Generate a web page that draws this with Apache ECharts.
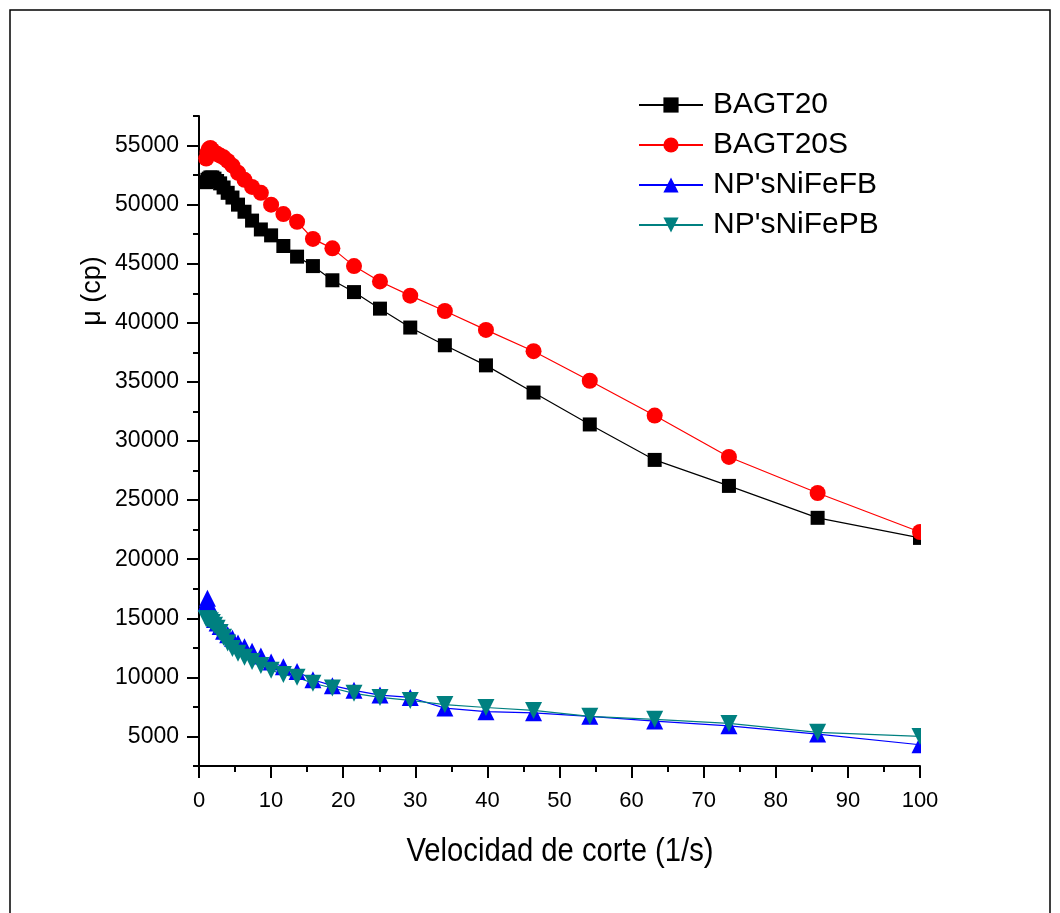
<!DOCTYPE html>
<html>
<head>
<meta charset="utf-8">
<script src="https://cdn.jsdelivr.net/npm/echarts@6/dist/echarts.min.js"></script>
<style>
html,body{margin:0;padding:0;background:#fff;}
#c{width:1060px;height:913px;}
</style>
</head>
<body>
<div id="c"></div>
<script>
// ---- data ----
const seriesNames = ['BAGT20', 'BAGT20S', "NP'sNiFeFB", "NP'sNiFePB"];
const shearRate = [1.00,1.17,1.36,1.58,1.85,2.15,2.51,2.93,3.41,3.98,4.64,5.41,6.31,7.36,8.58,10.0,11.7,13.6,15.8,18.5,21.5,25.1,29.3,34.1,39.8,46.4,54.2,63.2,73.5,85.8,100];
const bagt20 = [51900,52100,52200,52300,52300,52200,52000,51800,51450,51000,50600,50000,49400,48650,47900,47400,46500,45600,44800,43600,42600,41200,39600,38100,36400,34100,31400,28400,26200,23500,21800];
const bagt20s = [53900,54400,54700,54800,54600,54400,54300,54150,54000,53700,53300,52700,52100,51500,51000,50000,49200,48550,47100,46300,44800,43500,42300,41000,39400,37600,35100,32150,28650,25600,22300];
const npFB = [16300,16700,16200,15800,15300,14900,14600,14300,13900,13600,13300,12900,12600,12200,11800,11300,10900,10500,9800,9300,8900,8500,8300,7400,7100,7000,6700,6300,5900,5200,4300];
const npPB = [14950,14950,14900,14800,14650,14400,14150,13800,13400,12900,12450,12050,11700,11350,11000,10600,10250,10000,9500,9100,8650,8300,8050,7700,7450,7200,6700,6450,6100,5350,5000];
const yMajorTicks = [5000,10000,15000,20000,25000,30000,35000,40000,45000,50000,55000];
const xTitle = 'Velocidad de corte (1/s)';
const yTitle = 'μ (cp)';

const pairs = (ys) => shearRate.map((x, i) => [x, ys[i]]);

const chart = echarts.init(document.getElementById('c'), null, {renderer: 'canvas'});
const sans = '"Liberation Sans", Arial, sans-serif';

function lineSeries(name, data, color, symbol, size, rotate) {
  return {
    name: name, type: 'line', data: pairs(data),
    xAxisIndex: 0, yAxisIndex: 0,
    symbol: symbol, symbolSize: size, symbolRotate: rotate || 0,
    showAllSymbol: true,
    lineStyle: {color: color, width: 1.2},
    itemStyle: {color: color, borderWidth: 0},
    emphasis: {disabled: true},
    animation: false
  };
}

chart.setOption({
  backgroundColor: '#fff',
  animation: false,
  grid: {left: 199, right: 140, top: 116, bottom: 147, containLabel: false},
  xAxis: {
    type: 'value', min: 0, max: 100, interval: 10,
    axisLine: {show: true, lineStyle: {color: '#000', width: 2}},
    axisTick: {show: true, inside: false, length: 12, lineStyle: {color: '#000', width: 2}},
    minorTick: {show: true, splitNumber: 2, length: 6, lineStyle: {color: '#000', width: 2}},
    axisLabel: {color: '#000', fontSize: 22, fontFamily: sans, margin: 24},
    splitLine: {show: false}, minorSplitLine: {show: false}
  },
  yAxis: [{
    type: 'value', min: 2500, max: 57500, position: 'left',
    axisLine: {show: true, onZero: false, lineStyle: {color: '#000', width: 2}},
    axisTick: {show: true, inside: false, length: 12, customValues: yMajorTicks, lineStyle: {color: '#000', width: 2}},
    axisLabel: {color: '#000', fontSize: 23, fontFamily: sans, margin: 20, customValues: yMajorTicks,
      formatter: (v) => String(v)},
    splitLine: {show: false}
  }, {
    type: 'value', min: 2500, max: 57500, interval: 2500, position: 'left',
    axisLine: {show: false},
    axisTick: {show: true, inside: false, length: 6, lineStyle: {color: '#000', width: 2}},
    axisLabel: {show: false},
    splitLine: {show: false}
  }],
  legend: {
    orient: 'vertical', left: 638, top: 90, padding: 0,
    itemWidth: 64, itemHeight: 19, itemGap: 10,
    data: seriesNames,
    textStyle: {color: '#000', fontSize: 30, lineHeight: 30, fontFamily: sans, padding: [0, 0, 0, 5]},
    selectedMode: false
  },
  series: [
    lineSeries(seriesNames[0], bagt20, '#000000', 'rect', 14),
    lineSeries(seriesNames[1], bagt20s, '#ff0000', 'circle', 16),
    lineSeries(seriesNames[2], npFB, '#0000ff', 'triangle', 17),
    lineSeries(seriesNames[3], npPB, '#008080', 'triangle', 17, 180)
  ],
  graphic: [
    {type: 'rect', shape: {x: 10, y: 10, width: 1040, height: 930}, style: {fill: 'none', stroke: '#000', lineWidth: 1.5}, silent: true},
    {type: 'rect', shape: {x: 921, y: 100, width: 30, height: 665}, style: {fill: '#fff'}, z: 100, silent: true},
    {type: 'text', x: 93, y: 291, rotation: Math.PI / 2,
      style: {text: yTitle, fontSize: 27, fontFamily: sans, fill: '#000', align: 'center', verticalAlign: 'middle'}},
    {type: 'text', x: 560, y: 852, scaleX: 0.86,
      style: {text: xTitle, fontSize: 34, fontFamily: sans, fill: '#000', align: 'center', verticalAlign: 'middle'}}
  ]
});
</script>
</body>
</html>
